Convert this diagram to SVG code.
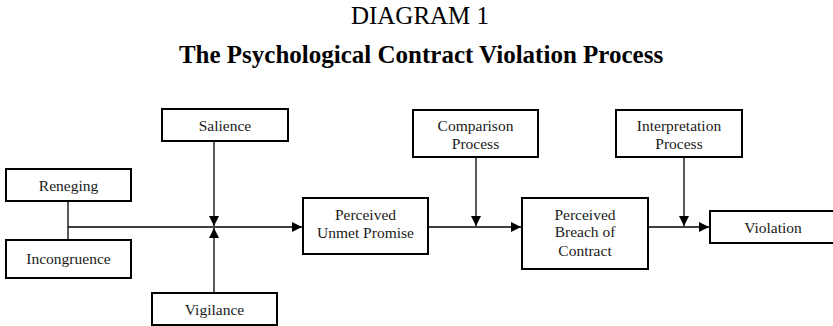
<svg xmlns="http://www.w3.org/2000/svg" width="833" height="326" viewBox="0 0 833 326">
<style>
.box{fill:#fff;stroke:#000;stroke-width:2}
.lbl{font-family:"Liberation Serif","Times New Roman",serif;font-size:15.5px;fill:#1a1a1a;text-anchor:middle}
.ttl{font-family:"Liberation Serif","Times New Roman",serif;fill:#000;text-anchor:middle}
.ln{stroke:#000;stroke-width:1.3;fill:none}
</style>
<defs>
<marker id="ah" markerUnits="userSpaceOnUse" markerWidth="11" markerHeight="10" refX="10" refY="5" orient="auto">
<path d="M0,0 L10,5 L0,10 Z" fill="#000"/>
</marker>
</defs>
<rect width="833" height="326" fill="#fff"/>
<text class="ttl" x="420" y="24" font-size="25">DIAGRAM 1</text>
<text class="ttl" x="421" y="63" font-size="25" font-weight="bold">The Psychological Contract Violation Process</text>
<g id="connectors">
<line class="ln" x1="68" y1="201" x2="68" y2="242"/>
<line class="ln" x1="68" y1="227" x2="302" y2="227" marker-end="url(#ah)"/>
<line class="ln" x1="214" y1="141" x2="214" y2="226" marker-end="url(#ah)"/>
<line class="ln" x1="214" y1="293" x2="214" y2="228" marker-end="url(#ah)"/>
<line class="ln" x1="428" y1="227" x2="521" y2="227" marker-end="url(#ah)"/>
<line class="ln" x1="476" y1="157" x2="476" y2="226" marker-end="url(#ah)"/>
<line class="ln" x1="648" y1="227" x2="709" y2="227" marker-end="url(#ah)"/>
<line class="ln" x1="684" y1="157" x2="684" y2="226" marker-end="url(#ah)"/>
</g>
<g id="reneging"><rect class="box" x="6" y="169" width="125" height="32"/><text class="lbl" x="68.5" y="191">Reneging</text></g>
<g id="incongruence"><rect class="box" x="6" y="240" width="125" height="38"/><text class="lbl" x="68.5" y="264">Incongruence</text></g>
<g id="salience"><rect class="box" x="162" y="109" width="126" height="32"/><text class="lbl" x="225" y="131">Salience</text></g>
<g id="vigilance"><rect class="box" x="152" y="293" width="125" height="32"/><text class="lbl" x="214.5" y="315">Vigilance</text></g>
<g id="unmet"><rect class="box" x="303" y="198" width="125" height="56"/><text class="lbl" x="365.5" y="220">Perceived</text><text class="lbl" x="365.5" y="238">Unmet Promise</text></g>
<g id="comparison"><rect class="box" x="413" y="110" width="125" height="47"/><text class="lbl" x="475.5" y="131">Comparison</text><text class="lbl" x="475.5" y="148.5">Process</text></g>
<g id="breach"><rect class="box" x="522" y="198" width="126" height="71"/><text class="lbl" x="585" y="219.5">Perceived</text><text class="lbl" x="585" y="237">Breach of</text><text class="lbl" x="585" y="255.5">Contract</text></g>
<g id="interpretation"><rect class="box" x="616" y="110" width="126" height="47"/><text class="lbl" x="679" y="131">Interpretation</text><text class="lbl" x="679" y="148.5">Process</text></g>
<g id="violation"><rect class="box" x="710" y="211" width="126" height="32"/><text class="lbl" x="773" y="232.5">Violation</text></g>
</svg>
